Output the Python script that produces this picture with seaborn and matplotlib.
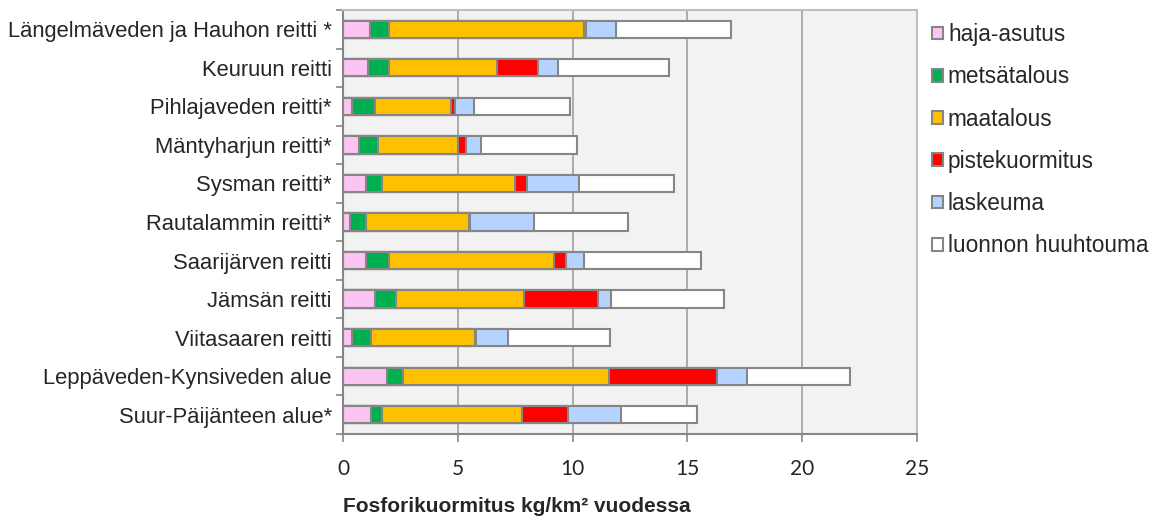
import numpy as np
import pandas as pd
import matplotlib.pyplot as plt
from matplotlib.patches import Patch
import seaborn as sns

# reitit ylhäältä alas
alueet = ["Längelmäveden ja Hauhon reitti *", "Keuruun reitti", "Pihlajaveden reitti*",
          "Mäntyharjun reitti*", "Sysman reitti*", "Rautalammin reitti*",
          "Saarijärven reitti", "Jämsän reitti", "Viitasaaren reitti",
          "Leppäveden-Kynsiveden alue", "Suur-Päijänteen alue*"]

haja_asutus = [1.18, 1.08, 0.38, 0.68, 0.98, 0.30, 1.00, 1.40, 0.38, 1.90, 1.20]
metsatalous = [0.82, 0.92, 1.02, 0.84, 0.72, 0.72, 1.02, 0.92, 0.82, 0.72, 0.50]
maatalous = [8.50, 4.71, 3.30, 3.49, 5.81, 4.48, 7.17, 5.57, 4.54, 8.97, 6.09]
pistekuormitus = [0.10, 1.77, 0.17, 0.36, 0.50, 0.02, 0.52, 3.20, 0.06, 4.69, 2.00]
laskeuma = [1.28, 0.90, 0.84, 0.63, 2.28, 2.81, 0.78, 0.60, 1.39, 1.30, 2.32]
luonnon_huuhtouma = [5.00, 4.80, 4.18, 4.21, 4.11, 4.09, 5.11, 4.91, 4.42, 4.51, 3.29]

sarjat = ["haja-asutus", "metsätalous", "maatalous", "pistekuormitus", "laskeuma", "luonnon huuhtouma"]
varit = ["#FBC4F2", "#00B050", "#FFC000", "#FF0000", "#B4D4FF", "#FFFFFF"]
xtiks = [0, 5, 10, 15, 20, 25]

df = pd.DataFrame({"haja-asutus": haja_asutus, "metsätalous": metsatalous,
                   "maatalous": maatalous, "pistekuormitus": pistekuormitus,
                   "laskeuma": laskeuma, "luonnon huuhtouma": luonnon_huuhtouma},
                  index=alueet)
kum = df.cumsum(axis=1)

sns.set_style("white")
plt.rcParams['font.family'] = ['Liberation Sans', 'DejaVu Sans']

fig = plt.figure(figsize=(11.54, 5.2), dpi=100)
ax = fig.add_axes([343 / 1154, 1 - 434 / 520, (917 - 343) / 1154, 424 / 520])
ax.set_facecolor("#F2F2F2")

reuna = "#868686"
# pinotut palkit: piirretään kumulatiiviset summat suurimmasta pienimpään
for i in reversed(range(len(sarjat))):
    sns.barplot(x=kum.iloc[:, i].values, y=alueet, orient="h", color=varit[i],
                saturation=1, edgecolor=reuna, linewidth=1.5, width=0.45, ax=ax)

ax.set_xlim(0, 25)
ax.set_ylim(10.5, -0.5)
ax.set_xticks(xtiks)
ax.set_xticklabels([str(t) for t in xtiks], family=['Lato', 'DejaVu Sans'], fontsize=15)
ax.xaxis.grid(True, color="#A6A6A6", linewidth=1.3)
ax.yaxis.grid(False)
ax.set_axisbelow(True)
ax.set_xlabel("")
ax.set_ylabel("")

ax.set_yticks(np.arange(-0.5, 11, 1), minor=True)
ax.tick_params(axis="y", which="major", length=0, pad=8, labelsize=15.8)
ax.tick_params(axis="y", which="minor", length=5, color=reuna, width=1.2, direction="out")
ax.tick_params(axis="x", length=6, color=reuna, width=1.2, direction="out", pad=12)
ax.xaxis.set_tick_params(bottom=True)
ax.yaxis.set_tick_params(left=True, which="minor")

for s in ["left", "bottom"]:
    ax.spines[s].set_color(reuna)
    ax.spines[s].set_linewidth(1.5)
for s in ["top", "right"]:
    ax.spines[s].set_color("#BFBFBF")
    ax.spines[s].set_linewidth(1.5)

kahvat = [Patch(facecolor=v, edgecolor=reuna, linewidth=1.5) for v in varit]
fig.legend(kahvat, sarjat, loc="upper left", bbox_to_anchor=(923 / 1154, 1 - 14 / 520),
           frameon=False, fontsize=16.3, handlelength=0.5, handleheight=0.5,
           handletextpad=0.2, labelspacing=0.85, borderaxespad=0)

fig.text(343 / 1154, 1 - 507 / 520, "Fosforikuormitus kg/km² vuodessa",
         fontsize=15, fontweight="bold", ha="left", va="center",
         family=['Liberation Sans', 'DejaVu Sans'])

plt.savefig("out.png", dpi=100)
